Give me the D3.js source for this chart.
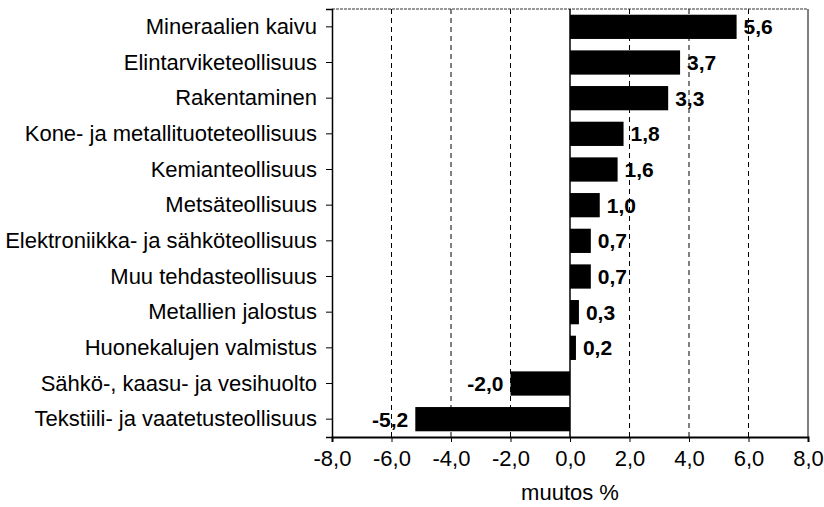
<!DOCTYPE html>
<html><head><meta charset="utf-8">
<script src="https://cdn.jsdelivr.net/npm/d3@7"></script>
<style>body{margin:0;background:#fff}svg{display:block}text{font-family:"Liberation Sans",Arial,sans-serif}</style>
</head><body>
<script>
const categories = ["Mineraalien kaivu","Elintarviketeollisuus","Rakentaminen","Kone- ja metallituoteteollisuus","Kemianteollisuus","Metsäteollisuus","Elektroniikka- ja sähköteollisuus","Muu tehdasteollisuus","Metallien jalostus","Huonekalujen valmistus","Sähkö-, kaasu- ja vesihuolto","Tekstiili- ja vaatetusteollisuus"];
const values = [5.6,3.7,3.3,1.8,1.6,1.0,0.7,0.7,0.3,0.2,-2.0,-5.2];
const xTicks = [-8,-6,-4,-2,0,2,4,6,8];
const xTitle = "muutos %";

const W=824,H=507, m={l:332,r:16,t:9,b:70};
const FF="Liberation Sans, Arial, sans-serif";
const svg=d3.select("body").append("svg").attr("width",W).attr("height",H);
const x=d3.scaleLinear().domain([-8,8]).range([m.l,W-m.r]);
const y=d3.scaleBand().domain(categories).range([m.t,H-m.b]).paddingInner(0.32).paddingOuter(0.16);
const fmt=v=>d3.format(".1f")(v).replace(".",",").replace("−","-");

// grid
svg.append("g").selectAll("line").data(xTicks.filter(t=>t!==0&&Math.abs(t)!==8)).join("line")
  .attr("x1",d=>x(d)).attr("x2",d=>x(d)).attr("y1",m.t).attr("y2",H-m.b)
  .attr("stroke","#000").attr("stroke-width",1).attr("stroke-dasharray","5,4");
// frame
svg.append("line").attr("x1",m.l).attr("x2",W-m.r).attr("y1",m.t).attr("y2",m.t).attr("stroke","#333").attr("stroke-width",1).attr("stroke-dasharray","3,1");
svg.append("line").attr("x1",W-m.r).attr("x2",W-m.r).attr("y1",m.t).attr("y2",H-m.b).attr("stroke","#000").attr("stroke-width",1);
// bars
svg.append("g").selectAll("rect").data(values).join("rect")
  .attr("x",d=>x(Math.min(0,d))).attr("width",d=>Math.abs(x(d)-x(0)))
  .attr("y",(d,i)=>y(categories[i])).attr("height",y.bandwidth()).attr("fill","#000");
// zero line
svg.append("line").attr("x1",x(0)).attr("x2",x(0)).attr("y1",m.t).attr("y2",H-m.b).attr("stroke","#000").attr("stroke-width",1.5);
// value labels
svg.append("g").selectAll("text").data(values).join("text")
  .attr("x",d=>d>=0?x(d)+7:x(d)-7).attr("y",(d,i)=>y(categories[i])+y.bandwidth()/2)
  .attr("dy","0.36em").attr("text-anchor",d=>d>=0?"start":"end")
  .attr("font-weight","bold").attr("font-size",21).style("font-family",FF).text(fmt);
// axes
const xa=svg.append("g").attr("transform",`translate(0,${H-m.b})`)
  .call(d3.axisBottom(x).tickValues(xTicks).tickFormat(fmt).tickSize(5).tickPadding(8));
xa.select(".domain").attr("stroke-width",2);
xa.selectAll("text").attr("font-size",22).attr("fill","#000").style("font-family",FF);
const ya=svg.append("g").attr("transform",`translate(${m.l},0)`)
  .call(d3.axisLeft(y).tickSize(6).tickPadding(9));
ya.select(".domain").attr("stroke-width",1.5);
ya.selectAll("text").attr("font-size",22).attr("fill","#000").style("font-family",FF);
svg.append("text").attr("x",x(0)).attr("y",H-7).attr("text-anchor","middle").attr("font-size",22).style("font-family",FF).text(xTitle);
</script>
</body></html>
